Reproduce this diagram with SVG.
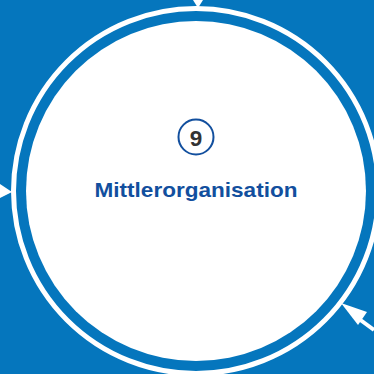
<svg xmlns="http://www.w3.org/2000/svg" width="374" height="374" viewBox="0 0 374 374">
<style>
.conn{stroke:#fff;stroke-width:4;fill:none}
.head{fill:#fff}
.label{font-family:"Liberation Sans",Arial,sans-serif;font-weight:bold;fill:#124f9e}
.num{font-family:"Liberation Sans",Arial,sans-serif;font-weight:bold;fill:#333}
</style>
<rect width="374" height="374" fill="#0576bd"/>
<g id="connectors">
<polygon class="head" points="193,0 203,0 198,8"/>
<polygon class="head" points="0,184 0,198 12,192"/>
<line class="conn" x1="374" y1="330" x2="355" y2="316"/>
<polygon class="head" points="341,303 367,312 358,325"/>
</g>
<g id="node9">
<circle cx="196" cy="191" r="182.5" fill="none" stroke="#fff" stroke-width="5"/>
<circle cx="196" cy="191" r="170" fill="#fff"/>
<circle cx="196" cy="137" r="17.5" fill="#fff" stroke="#124f9e" stroke-width="2"/>
<text class="num" x="196" y="145.5" font-size="22.5" text-anchor="middle">9</text>
<text class="label" x="196" y="197" font-size="21" text-anchor="middle" textLength="203" lengthAdjust="spacingAndGlyphs">Mittlerorganisation</text>
</g>
</svg>
